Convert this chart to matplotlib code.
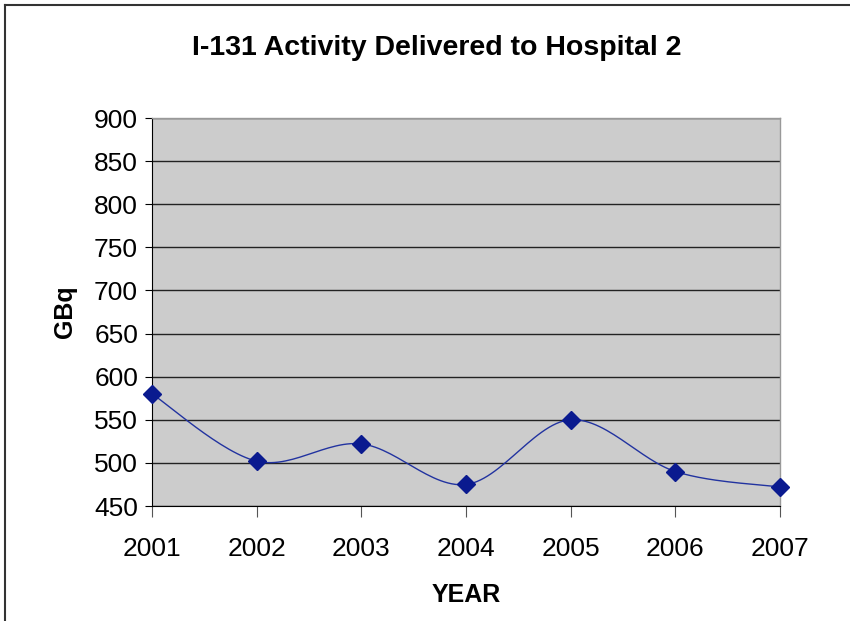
import numpy as np
import matplotlib
matplotlib.use("Agg")
import matplotlib.pyplot as plt
from matplotlib.lines import Line2D

plt.rcParams["font.family"] = ["Liberation Sans", "DejaVu Sans"]

years = ["2001", "2002", "2003", "2004", "2005", "2006", "2007"]
activity = [580, 502, 522, 475, 550, 490, 472]
y_ticks = [450, 500, 550, 600, 650, 700, 750, 800, 850, 900]


def smooth_curve(xs, ys, steps=30):
    # Catmull-Rom style bezier smoothing through every point
    xs = np.asarray(xs, float)
    ys = np.asarray(ys, float)
    px = np.concatenate([[xs[0]], xs, [xs[-1]]])
    py = np.concatenate([[ys[0]], ys, [ys[-1]]])
    out_x, out_y = [], []
    t = np.linspace(0, 1, steps)
    for i in range(1, len(px) - 2):
        p0 = np.array([px[i], py[i]])
        p3 = np.array([px[i + 1], py[i + 1]])
        c1 = p0 + (np.array([px[i + 1], py[i + 1]]) - np.array([px[i - 1], py[i - 1]])) / 6
        c2 = p3 - (np.array([px[i + 2], py[i + 2]]) - np.array([px[i], py[i]])) / 6
        b = ((1 - t) ** 3)[:, None] * p0 + (3 * (1 - t) ** 2 * t)[:, None] * c1 \
            + (3 * (1 - t) * t ** 2)[:, None] * c2 + (t ** 3)[:, None] * p3
        out_x.extend(b[:, 0])
        out_y.extend(b[:, 1])
    return out_x, out_y


fig = plt.figure(figsize=(8.5, 6.21), dpi=100)
ax = fig.add_axes([152 / 850, 1 - 506 / 621, (780 - 152) / 850, (506 - 118) / 621])
ax.set_facecolor("#cccccc")

x = np.arange(len(years))
sx, sy = smooth_curve(x, activity)
ax.plot(sx, sy, color="#2233a0", lw=1.0, zorder=3)
ax.plot(x, activity, linestyle="none", marker="D", markersize=9,
        color="#0a1a8f", zorder=4, clip_on=False)

ax.set_xlim(0, len(years) - 1)
ax.set_ylim(450, 900)
ax.set_yticks(y_ticks)
ax.set_xticks(x)
ax.set_xticklabels(years)
ax.yaxis.grid(True, color="#222222", lw=1.0)
ax.set_axisbelow(True)

for s in ["top", "right"]:
    ax.spines[s].set_color("#999999")
    ax.spines[s].set_linewidth(1.0)
ax.spines["left"].set_color("black")
ax.spines["bottom"].set_color("black")

ax.tick_params(axis="y", labelsize=19, length=5, direction="out", pad=5)
ax.tick_params(axis="x", labelsize=19, length=8, direction="out", pad=14, color="#555555")

ax.set_xlabel("YEAR", fontsize=18, fontweight="bold", labelpad=16)
ax.set_ylabel("GBq", fontsize=18, fontweight="bold", labelpad=12)
fig.text(437 / 850, 1 - 48 / 621, "I-131 Activity Delivered to Hospital 2",
         ha="center", va="center", fontsize=20.5, fontweight="bold")

# outer chart frame (top and left edges)
fig.add_artist(Line2D([5 / 850, 1], [1 - 5 / 621, 1 - 5 / 621], color="#333333", lw=1.5))
fig.add_artist(Line2D([5 / 850, 5 / 850], [0, 1 - 5 / 621], color="#333333", lw=1.5))

fig.savefig("out.png", dpi=100)
